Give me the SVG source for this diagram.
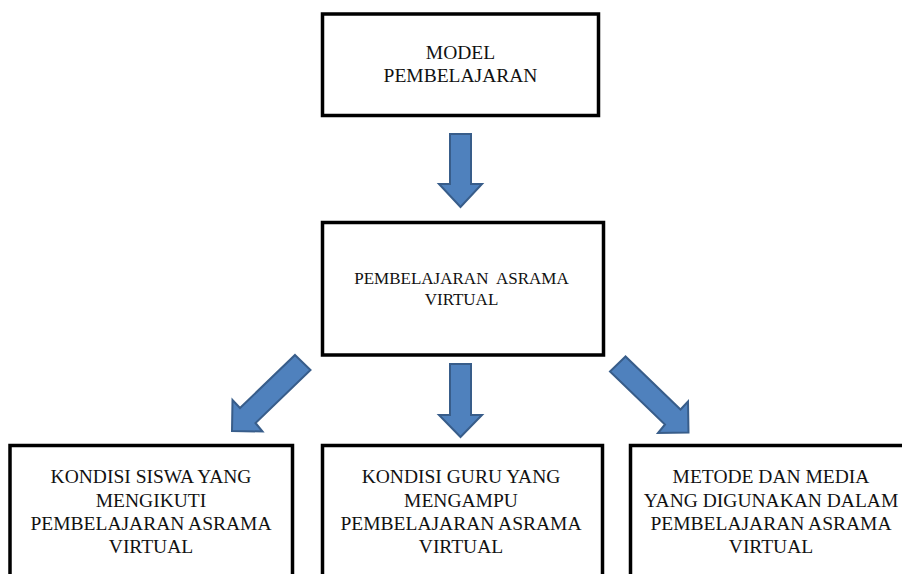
<svg xmlns="http://www.w3.org/2000/svg" width="902" height="574" viewBox="0 0 902 574">
<style>
.box{fill:#fff;stroke:#000;stroke-width:3.5}
.t{font-family:"Liberation Serif","Times New Roman",serif;font-size:19.5px;fill:#111;text-anchor:middle}
.t2{font-size:17px;white-space:pre}
.arr{fill:#4F81BD;stroke:#385D8A;stroke-width:2;stroke-linejoin:miter}
</style>
<rect width="902" height="574" fill="#fff"/>
<g id="connectors">
<path class="arr" d="M450,134 H471 V184 H482 L460.5,207 L439,184 H450 Z"/>
<path class="arr" d="M450,364 H471 V415 H482 L460.5,437 L439,415 H450 Z"/>
<polygon class="arr" points="295,355 310.5,370 255.5,423 262.5,431.5 232,431 232.5,400 240,408"/>
<polygon class="arr" points="625.5,356.5 610,371.5 665,424.5 658,433 688.5,432.5 688,401.5 680.5,409.5"/>
</g>
<g id="model">
<rect class="box" x="322.5" y="14" width="276" height="101.5"/>
<text class="t" x="460.5" y="59">MODEL</text>
<text class="t" x="460.5" y="82">PEMBELAJARAN</text>
</g>
<g id="asrama">
<rect class="box" x="322.5" y="222.5" width="281" height="132.5"/>
<text class="t t2" x="461.5" y="284">PEMBELAJARAN  ASRAMA</text>
<text class="t t2" x="461.5" y="305">VIRTUAL</text>
</g>
<g id="siswa">
<rect class="box" x="10" y="445.5" width="282.5" height="140"/>
<text class="t" x="151" y="483">KONDISI SISWA YANG</text>
<text class="t" x="151" y="507">MENGIKUTI</text>
<text class="t" x="151" y="530">PEMBELAJARAN ASRAMA</text>
<text class="t" x="151" y="553">VIRTUAL</text>
</g>
<g id="guru">
<rect class="box" x="322.5" y="445.5" width="280" height="140"/>
<text class="t" x="461" y="483">KONDISI GURU YANG</text>
<text class="t" x="461" y="507">MENGAMPU</text>
<text class="t" x="461" y="530">PEMBELAJARAN ASRAMA</text>
<text class="t" x="461" y="553">VIRTUAL</text>
</g>
<g id="metode">
<rect class="box" x="630.5" y="445.5" width="282" height="140"/>
<text class="t" x="771" y="483">METODE DAN MEDIA</text>
<text class="t" x="771" y="507">YANG DIGUNAKAN DALAM</text>
<text class="t" x="771" y="530">PEMBELAJARAN ASRAMA</text>
<text class="t" x="771" y="553">VIRTUAL</text>
</g>
</svg>
